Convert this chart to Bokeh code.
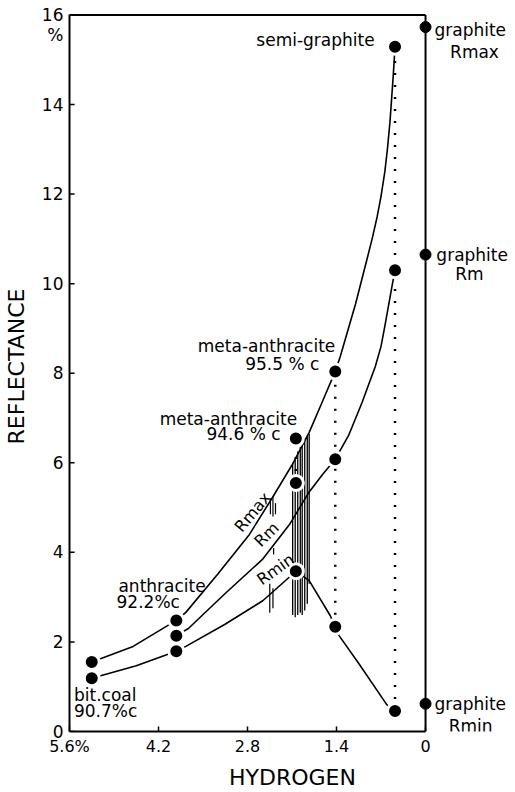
from bokeh.plotting import figure
from bokeh.models import Range1d, FixedTicker, ColumnDataSource
from bokeh.core.properties import value
from bokeh.embed import file_html
from bokeh.resources import INLINE

FONT = "DejaVu Sans"

# ---------------- data ----------------
x_ticks = [5.6, 4.2, 2.8, 1.4, 0]
x_tick_labels = ["5.6%", "4.2", "2.8", "1.4", "0"]
y_ticks = [0, 2, 4, 6, 8, 10, 12, 14, 16]
y_tick_labels = ["0", "2", "4", "6", "8", "10", "12", "14", "16"]
y_unit = "%"

# reflectance curves (hydrogen %, reflectance %)
rmax_h = [5.25, 4.6, 3.92, 3.77, 3.27, 2.77, 2.41, 2.1, 1.83, 1.63, 1.42, 1.34, 1.1, 0.92,
          0.84, 0.76, 0.70, 0.64, 0.60, 0.56, 0.51, 0.48]
rmax_r = [1.55, 1.90, 2.48, 2.66, 3.51, 4.40, 5.22, 5.95, 6.68, 7.34, 8.04, 8.38, 9.55, 10.55,
          11.0, 11.5, 11.95, 12.5, 13.0, 13.6, 14.6, 15.29]
rm_h = [3.92, 3.73, 3.16, 2.56, 2.14, 1.83, 1.62, 1.42, 1.21, 1.0, 0.79, 0.70, 0.64, 0.52, 0.48]
rm_r = [2.14, 2.30, 3.07, 3.85, 4.62, 5.35, 5.74, 6.08, 6.61, 7.34, 8.15, 8.6, 9.05, 10.0, 10.3]
rmin_h = [5.25, 4.55, 3.92, 3.77, 3.16, 2.56, 2.14, 2.04, 1.83, 1.5, 1.42, 1.36, 1.05, 0.61, 0.48]
rmin_r = [1.19, 1.47, 1.79, 1.90, 2.39, 2.92, 3.45, 3.58, 3.37, 2.59, 2.34, 2.14, 1.52, 0.60, 0.46]

# measured samples
dot_h = [5.25, 5.25, 3.92, 3.92, 3.92, 2.04, 2.04, 2.04, 1.42, 1.42, 1.42, 0.48, 0.48, 0.48]
dot_r = [1.55, 1.19, 2.48, 2.14, 1.79, 6.54, 5.55, 3.58, 8.04, 6.08, 2.34, 15.29, 10.3, 0.46]
graphite_h = [0, 0, 0]
graphite_r = [15.73, 10.65, 0.62]

# dotted connectors between Rmax and Rmin of one sample
link_h = [5.25, 3.92, 2.04, 1.42, 0.48]
link_top = [1.55, 2.48, 6.54, 8.04, 15.29]
link_bot = [1.19, 1.79, 5.55, 2.34, 0.46]

# vertical range bars (hatching)
hatch_h = [2.09, 2.05, 2.01, 1.97, 1.94, 1.90, 1.86, 1.83]
hatch_top = [6.0, 6.1, 6.25, 6.35, 6.45, 6.55, 6.6, 6.65]
hatch_bot = [2.6, 2.55, 2.6, 2.65, 2.6, 2.7, 2.85, 3.3]
tick_h = [2.44, 2.40, 2.36, 2.39, 2.45, 2.40]
tick_top = [5.2, 5.25, 5.1, 4.1, 3.3, 3.2]
tick_bot = [4.85, 4.8, 4.85, 3.95, 2.65, 2.75]

# annotations
ann_text = ["semi-graphite", "graphite", "Rmax", "graphite", "Rm", "graphite", "Rmin",
            "meta-anthracite", "95.5 % c", "meta-anthracite", "94.6 % c",
            "anthracite", "92.2%c", "bit.coal", "90.7%c"]
ann_h = [0.80, -0.14, -0.77, -0.17, -0.69, -0.14, -0.71,
         1.42, 1.67, 2.02, 2.28, 4.83, 4.86, 5.53, 5.53]
ann_r = [15.45, 15.67, 15.18, 10.63, 10.21, 0.62, 0.13,
         8.6, 8.2, 6.98, 6.65, 3.25, 2.89, 0.82, 0.46]
ann_align = ["right", "left", "center", "left", "center", "left", "center",
             "right", "right", "right", "right", "left", "left", "left", "left"]

curve_text = ["Rmax", "Rm", "Rmin"]
curve_h = [2.72, 2.5, 2.36]
curve_r = [4.9, 4.4, 3.62]
curve_angle = [0.87, 0.79, 0.62]

# ---------------- figure ----------------
X0, X1 = 5.6, 0.0
p = figure(width=515, height=792, output_backend="svg", toolbar_location=None,
           x_range=Range1d(X0, -1.415), y_range=Range1d(0, 16.3),
           min_border_left=64, min_border_right=0, min_border_top=1, min_border_bottom=53)
p.background_fill_color = "white"
p.border_fill_color = "white"
p.outline_line_color = None
p.grid.visible = False

p.xaxis.ticker = FixedTicker(ticks=x_ticks)
p.xaxis.major_label_overrides = {t: l for t, l in zip(x_ticks, x_tick_labels)}
p.xaxis.bounds = (X1, X0)
p.xaxis.axis_label = "HYDROGEN"

# unit sign "%" printed just under the top value of the reflectance axis
unit_pos = 15.55
p.yaxis.ticker = FixedTicker(ticks=y_ticks + [unit_pos])
overrides = {t: l for t, l in zip(y_ticks, y_tick_labels)}
overrides[unit_pos] = y_unit
p.yaxis.major_label_overrides = overrides
p.yaxis.bounds = (0, 16)
p.yaxis.axis_label = "REFLECTANCE"

for ax in (p.xaxis, p.yaxis):
    ax.axis_line_color = "black"
    ax.axis_line_width = 2
    ax.major_tick_out = 0
    ax.minor_tick_line_color = None
    ax.major_tick_line_color = "black"
    ax.major_tick_line_width = 1.5
    ax.major_label_text_font = FONT
    ax.major_label_text_color = "black"
    ax.axis_label_text_font = FONT
    ax.axis_label_text_font_style = "normal"
    ax.axis_label_text_color = "black"
    ax.axis_label_text_font_size = "22px"
p.xaxis.major_tick_in = 5
p.yaxis.major_tick_in = 0
p.xaxis.major_label_text_font_size = "16px"
p.yaxis.major_label_text_font_size = "17px"
p.xaxis.major_label_standoff = 5
p.yaxis.major_label_standoff = 6
p.xaxis.axis_label_standoff = 6
p.yaxis.axis_label_standoff = 10

# inward tick marks of the reflectance axis (only at the numbered values)
p.segment(x0=[X0] * len(y_ticks), y0=y_ticks, x1=[X0 - 0.08] * len(y_ticks), y1=y_ticks,
          line_color="black", line_width=1.5)

# frame: top and right sides
p.segment(x0=[X0, X1], y0=[16, 0], x1=[X1, X1], y1=[16, 16], line_color="black", line_width=2)

# hatching and short range marks
p.segment(x0=hatch_h, y0=hatch_bot, x1=hatch_h, y1=hatch_top, line_color="black", line_width=1.3)
p.segment(x0=tick_h, y0=tick_bot, x1=tick_h, y1=tick_top, line_color="black", line_width=1.2)

# dotted connectors
p.segment(x0=link_h, y0=link_bot, x1=link_h, y1=link_top, line_color="black",
          line_width=2.5, line_dash="2 10")

# curves
for hh, rr in ((rmax_h, rmax_r), (rm_h, rm_r), (rmin_h, rmin_r)):
    p.line(hh, rr, line_color="black", line_width=1.6, line_join="round")

# sample dots (white halo gives the small gap around each point)
p.scatter(dot_h, dot_r, size=15, fill_color="black", line_color="white", line_width=3)
p.scatter(graphite_h, graphite_r, size=11, fill_color="black", line_color="black")

# texts
src = ColumnDataSource(dict(x=ann_h, y=ann_r, text=ann_text, align=ann_align))
p.text(x="x", y="y", text="text", text_align="align", text_baseline="middle",
       text_font=value(FONT), text_font_size="17px", text_color="black", source=src)

csrc = ColumnDataSource(dict(x=curve_h, y=curve_r, text=curve_text, angle=curve_angle))
p.text(x="x", y="y", text="text", angle="angle", text_align="center", text_baseline="middle",
       text_font=value(FONT), text_font_size="16px", text_color="black", source=csrc)

open("out.html", "w").write(file_html(p, INLINE))
